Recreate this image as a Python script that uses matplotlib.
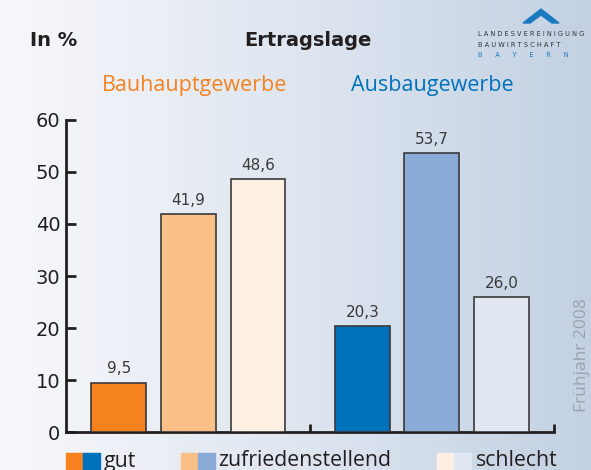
import numpy as np
import matplotlib
matplotlib.use("Agg")
import matplotlib.pyplot as plt
from matplotlib.patches import Rectangle, Polygon
from matplotlib.colors import LinearSegmentedColormap

# === DATA ===
groups = ["Bauhauptgewerbe", "Ausbaugewerbe"]
categories = ["gut", "zufriedenstellend", "schlecht"]
bau_values = [9.5, 41.9, 48.6]
aus_values = [20.3, 53.7, 26.0]
bau_colors = ["#f5821f", "#fbbf88", "#fdefe2"]
aus_colors = ["#0072bc", "#8aaad8", "#e1e7f3"]
group_colors = ["#f5821f", "#0072bc"]
y_ticks = [0, 10, 20, 30, 40, 50, 60]

W, H = 591, 470
fig = plt.figure(figsize=(W / 100, H / 100), dpi=100)
sans = "Open Sans"

# === BACKGROUND GRADIENT ===
bg = fig.add_axes([0, 0, 1, 1])
grad = np.linspace(0, 1, 256).reshape(1, -1)
cmap = LinearSegmentedColormap.from_list("bg", ["#f7f8fb", "#dfe6f0", "#c3d1e3"])
bg.imshow(grad, aspect="auto", cmap=cmap, extent=[0, 1, 0, 1])
bg.set_xlim(0, 1)
bg.set_ylim(0, 1)
bg.axis("off")

# === CHART AXES ===
ax_left, ax_right = 66 / W, 554 / W
ax_bottom, ax_top = 1 - 432 / H, 1 - 120 / H
ax = fig.add_axes([ax_left, ax_bottom, ax_right - ax_left, ax_top - ax_bottom])
ax.patch.set_alpha(0)

pos_bau = [0, 1, 2]
pos_aus = [3.5, 4.5, 5.5]
width = 0.79
edge = "#3a3a3a"

ax.bar(pos_bau, bau_values, width=width, color=bau_colors, edgecolor=edge, linewidth=1.2, zorder=3)
ax.bar(pos_aus, aus_values, width=width, color=aus_colors, edgecolor=edge, linewidth=1.2, zorder=3)

for x, v in zip(pos_bau + pos_aus, bau_values + aus_values):
    ax.text(x, v + 1.2, f"{v:.1f}".replace(".", ","), ha="center", va="bottom",
            fontsize=11, color="#3a3a3a")

ax.set_xlim(-0.76, 6.255)
ax.set_ylim(0, 60)
ax.set_yticks(y_ticks)
ax.set_yticklabels([str(t) for t in y_ticks], fontsize=14, color="#231f20")
ax.tick_params(axis="y", direction="in", length=7, width=2, color="#231f20", pad=4)
ax.set_xticks([2.75, 6.255])
ax.set_xticklabels([])
ax.tick_params(axis="x", direction="in", length=6, width=2, color="#231f20")

for s in ["top", "right"]:
    ax.spines[s].set_visible(False)
for s in ["left", "bottom"]:
    ax.spines[s].set_linewidth(2)
    ax.spines[s].set_color("#231f20")

# === TITLES ===
fig.text(30 / W, 1 - 40 / H, "In %", fontsize=14, fontweight="bold", color="#231f20", va="center")
fig.text(308 / W, 1 - 40 / H, "Ertragslage", fontsize=14, fontweight="bold",
         color="#231f20", ha="center", va="center")
fig.text(195 / W, 1 - 85 / H, groups[0], fontsize=15.5, color=group_colors[0],
         ha="center", va="center", family=sans)
fig.text(432 / W, 1 - 85 / H, groups[1], fontsize=15.5, color=group_colors[1],
         ha="center", va="center", family=sans)

# === LOGO ===
chev = Polygon([[523 / W, 1 - 23 / H], [541 / W, 1 - 9 / H], [559 / W, 1 - 23 / H],
                [552 / W, 1 - 23 / H], [541 / W, 1 - 15 / H], [530 / W, 1 - 23 / H]],
               closed=True, transform=fig.transFigure, color="#1a7ac0", zorder=5)
fig.patches.append(chev)
fig.text(478 / W, 1 - 34 / H, "L A N D E S V E R E I N I G U N G", fontsize=4.8, color="#333333", va="center")
fig.text(478 / W, 1 - 45 / H, "B A U W I R T S C H A F T", fontsize=4.8, color="#333333", va="center")
fig.text(478 / W, 1 - 55 / H, "B      A      Y      E      R      N", fontsize=4.8, color="#1a7ac0", va="center")

# === SIDE NOTE ===
fig.text(582 / W, 1 - 355 / H, "Frühjahr 2008", fontsize=12.5, color="#9aa4b0",
         rotation=90, ha="center", va="center", family=sans)

# === LEGEND ===
leg_y = 1 - 470 / H
sq_h = 17 / H
leg_items = [(66, "gut", 104), (181, "zufriedenstellend", 218), (437, "schlecht", 476)]
for i, (x0, lab, tx) in enumerate(leg_items):
    fig.patches.append(Rectangle((x0 / W, leg_y), 17 / W, sq_h, transform=fig.transFigure,
                                 color=bau_colors[i], zorder=5))
    fig.patches.append(Rectangle(((x0 + 17) / W, leg_y), 17 / W, sq_h, transform=fig.transFigure,
                                 color=aus_colors[i], zorder=5))
    fig.text(tx / W, 1 - 461 / H, lab, fontsize=15.3, color="#231f20", va="center", family=sans)

fig.savefig("out.png", dpi=100)
